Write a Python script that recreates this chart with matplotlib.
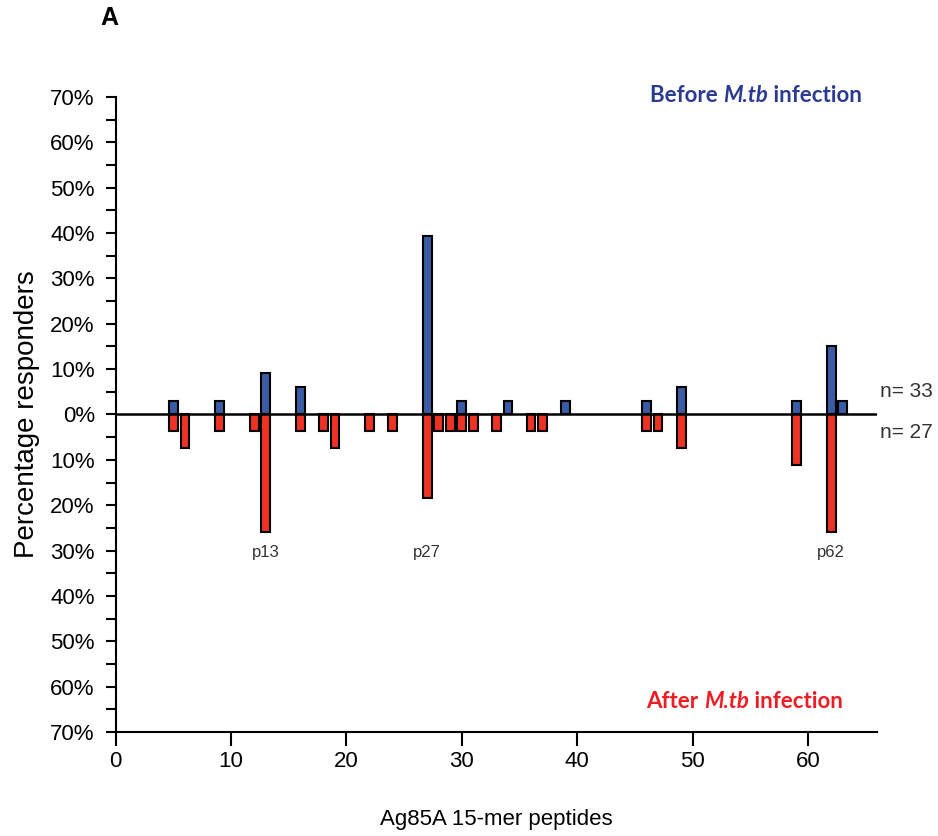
import matplotlib.pyplot as plt
from matplotlib.ticker import MultipleLocator, FuncFormatter

# Ag85A peptide responses, % of responders (before: n=33, after: n=27)
before_peptides = [5, 9, 13, 16, 27, 30, 34, 39, 46, 49, 59, 62, 63]
before_pct = [3.0, 3.0, 9.1, 6.1, 39.4, 3.0, 3.0, 3.0, 3.0, 6.1, 3.0, 15.2, 3.0]

after_peptides = [5, 6, 9, 12, 13, 16, 18, 19, 22, 24, 27, 28, 29, 30, 31,
                  33, 36, 37, 46, 47, 49, 59, 62]
after_pct = [3.7, 7.4, 3.7, 3.7, 25.9, 3.7, 3.7, 7.4, 3.7, 3.7, 18.5, 3.7, 3.7,
             3.7, 3.7, 3.7, 3.7, 3.7, 3.7, 3.7, 7.4, 11.1, 25.9]

n_before = 33
n_after = 27
highlighted = ["p13", "p27", "p62"]
highlighted_pos = [13, 27, 62]

BLUE = "#3B5BA5"
RED = "#EE3224"
TXT_BLUE = "#2B3B8F"
TXT_RED = "#EE1D23"

plt.rcParams["font.family"] = ["Liberation Sans", "DejaVu Sans"]

fig = plt.figure(figsize=(9.38, 8.36), dpi=100)
ax = fig.add_axes([0.1233, 0.1244, 0.812, 0.7596])

ax.bar(before_peptides, before_pct, width=0.76, color=BLUE,
       edgecolor="black", linewidth=1.5, zorder=3)
ax.bar(after_peptides, [-v for v in after_pct], width=0.76, color=RED,
       edgecolor="black", linewidth=1.5, zorder=3)

# zero line
ax.axhline(0, xmin=0, xmax=1.0, color="black", linewidth=1.8, zorder=4)

ax.set_xlim(0, 66)
ax.set_ylim(-70, 70)

for s in ["top", "right"]:
    ax.spines[s].set_visible(False)
for s in ["left", "bottom"]:
    ax.spines[s].set_linewidth(1.5)

ax.yaxis.set_major_locator(MultipleLocator(10))
ax.yaxis.set_minor_locator(MultipleLocator(5))
ax.yaxis.set_major_formatter(FuncFormatter(lambda v, p: f"{abs(v):.0f}%"))
ax.xaxis.set_major_locator(MultipleLocator(10))
ax.tick_params(axis="y", which="both", direction="out", length=7, width=1.5,
               labelsize=16, pad=8)
ax.tick_params(axis="x", which="major", direction="out", length=10, width=1.5,
               labelsize=16, pad=4)

ax.set_ylabel("Percentage responders", fontsize=20, labelpad=7)
ax.set_xlabel("Ag85A 15-mer peptides", fontsize=16, labelpad=26)

for lab, pos in zip(highlighted, highlighted_pos):
    ax.text(pos, -30.5, lab, ha="center", va="center", fontsize=12, color="#333333")

ax.text(66.2, 5, f"n= {n_before}", ha="left", va="center", fontsize=15,
        color="#333333", clip_on=False)
ax.text(66.2, -4, f"n= {n_after}", ha="left", va="center", fontsize=15,
        color="#333333", clip_on=False)


def mixed_label(x, y, parts, color):
    prev = ax.text(x, y, parts[0][0], fontsize=16, fontweight="bold",
                   fontstyle=parts[0][1], color=color, family="Lato",
                   ha="left", va="center")
    for txt, style in parts[1:]:
        prev = ax.annotate(txt, xy=(1, 0), xycoords=prev, fontsize=16,
                           fontweight="bold", fontstyle=style, color=color,
                           family="Lato", ha="left", va="bottom")
    return prev


mixed_label(46.3, 70.4, [("Before ", "normal"), ("M.tb", "italic"),
                         (" infection", "normal")], TXT_BLUE)
mixed_label(46.0, -63.2, [("After ", "normal"), ("M.tb", "italic"),
                          (" infection", "normal")], TXT_RED)

fig.text(0.117, 0.978, "A", fontsize=18, fontweight="bold", ha="center", va="center")

fig.savefig("out.png", dpi=100)
